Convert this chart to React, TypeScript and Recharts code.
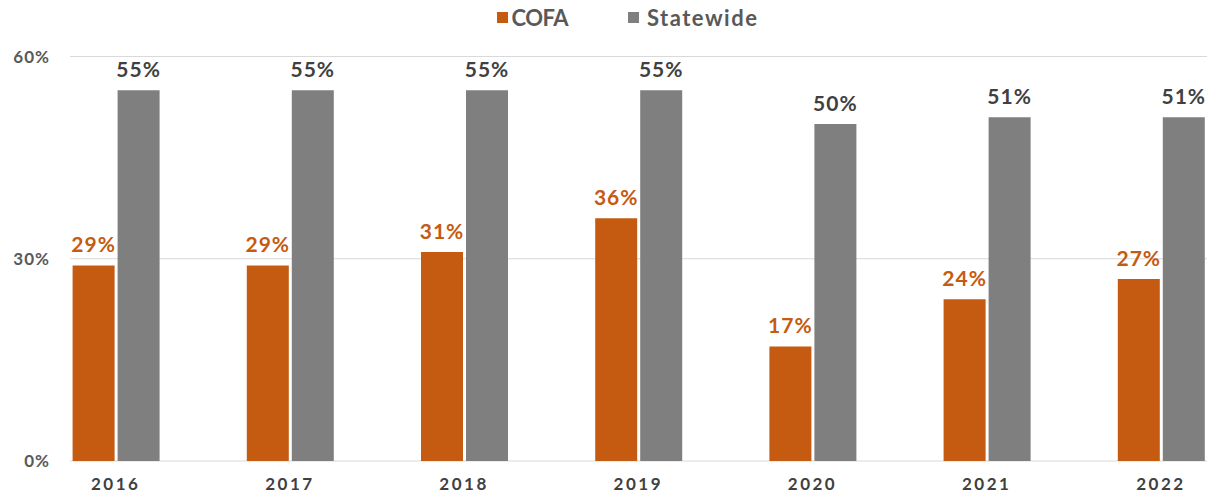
import React from 'react';
import { BarChart, Bar, XAxis, YAxis, CartesianGrid, Legend, LabelList } from 'recharts';

const years = ['2016', '2017', '2018', '2019', '2020', '2021', '2022'];
const cofa = [29, 29, 31, 36, 17, 24, 27];
const statewide = [55, 55, 55, 55, 50, 51, 51];
const yTicks = [0, 30, 60];

const ORANGE = '#C55A11';
const GRAY = '#7F7F7F';

const data = years.map((year, i) => ({ year, cofa: cofa[i], statewide: statewide[i] }));

const LegendContent = () => (
  <div
    style={{
      display: 'flex',
      justifyContent: 'center',
      alignItems: 'center',
      height: 34,
      fontSize: 22,
      fontWeight: 700,
      color: '#595959',
      paddingLeft: 48,
    }}
  >
    <span style={{ display: 'inline-block', width: 11, height: 11, background: ORANGE, marginRight: 4 }} />
    <span style={{ marginRight: 60, letterSpacing: -0.5 }}>COFA</span>
    <span style={{ display: 'inline-block', width: 11, height: 11, background: GRAY, marginRight: 8 }} />
    <span style={{ letterSpacing: 1.5 }}>Statewide</span>
  </div>
);

const App: React.FC = () => {
  return (
    <div style={{ position: 'absolute', left: 0, top: 0, fontFamily: 'Lato, sans-serif', background: '#fff' }}>
      <BarChart
        width={1207}
        height={499}
        data={data}
        margin={{ top: 22.5, right: 0, left: 0, bottom: 0 }}
        barSize={42}
        barGap={3}
      >
        <Legend verticalAlign="top" content={<LegendContent />} wrapperStyle={{ top: 0, left: 0, width: 1207 }} />
        <CartesianGrid vertical={false} stroke="#D9D9D9" />
        <XAxis
          dataKey="year"
          padding={{ left: -41.4, right: -41 }}
          axisLine={false}
          tickLine={false}
          tickSize={0}
          tickMargin={17}
          height={38}
          tick={{ fill: '#404040', fontSize: 17, fontWeight: 700, letterSpacing: 2.5 }}
        />
        <YAxis
          domain={[0, 60]}
          ticks={yTicks}
          width={70}
          axisLine={false}
          tickLine={false}
          tickSize={0}
          tickMargin={20}
          tickFormatter={(v: number) => `${v}%`}
          tick={{ fill: '#595959', fontSize: 17, fontWeight: 700, letterSpacing: 1 }}
        />
        <Bar dataKey="cofa" fill={ORANGE} isAnimationActive={false}>
          <LabelList
            dataKey="cofa"
            position="top"
            offset={13}
            formatter={(v: number) => `${v}%`}
            style={{ fill: ORANGE, fontSize: 21, fontWeight: 700, letterSpacing: 1 }}
          />
        </Bar>
        <Bar dataKey="statewide" fill={GRAY} isAnimationActive={false}>
          <LabelList
            dataKey="statewide"
            position="top"
            offset={13}
            formatter={(v: number) => `${v}%`}
            style={{ fill: '#404040', fontSize: 21, fontWeight: 700, letterSpacing: 1 }}
          />
        </Bar>
      </BarChart>
    </div>
  );
};

export default App;
